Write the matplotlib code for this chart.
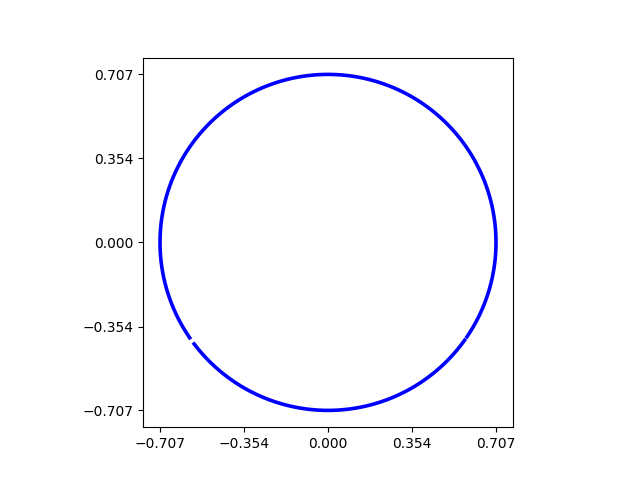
import numpy as np
import matplotlib
matplotlib.use("Agg")
import matplotlib.pyplot as plt

# circle radius and the arcs that are drawn (degrees); small gaps between them
radius = 1 / np.sqrt(2)
arc_starts = [-34.2, 217.2]
arc_ends = [214.6, 324.4]
tick_values = [-0.707, -0.354, 0.0, 0.354, 0.707]
tick_labels = ["\u22120.707", "\u22120.354", "0.000", "0.354", "0.707"]

fig, ax = plt.subplots(figsize=(6.4, 4.8), dpi=100)

for a0, a1 in zip(arc_starts, arc_ends):
	theta = np.radians(np.linspace(a0, a1, 400))
	ax.plot(radius * np.cos(theta), radius * np.sin(theta), color="b", lw=2.6)

ax.set_aspect("equal")
ax.set_xticks(tick_values)
ax.set_xticklabels(tick_labels)
ax.set_yticks(tick_values)
ax.set_yticklabels(tick_labels)

fig.savefig("out.png")
